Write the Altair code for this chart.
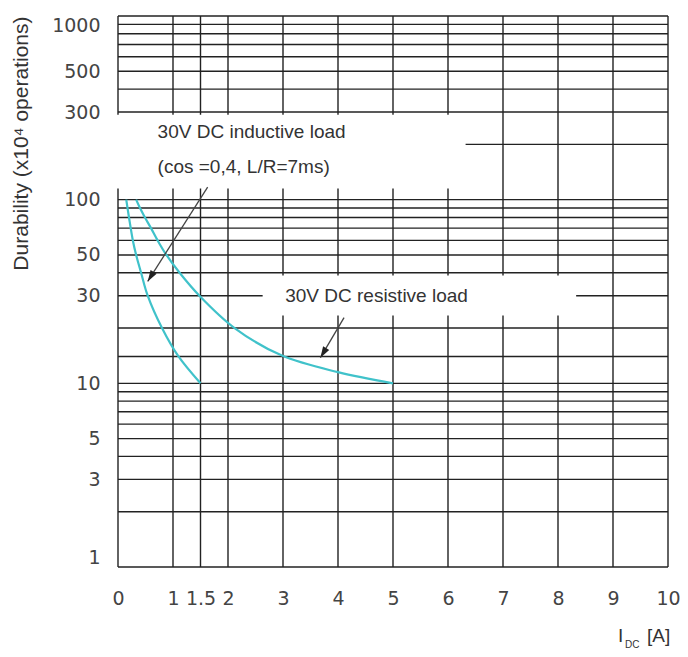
import altair as alt
import pandas as pd

# ---- data ----
x_grid = [0, 1, 1.5, 2, 3, 4, 5, 6, 7, 8, 9, 10]
y_grid = [1, 2, 3, 4, 5, 6, 7, 8, 9, 10, 14, 20, 30, 40, 50, 60, 70, 80, 90,
          100, 200, 300, 400, 500, 600, 700, 800, 900, 1000]
x_labels = [0, 1, 1.5, 2, 3, 4, 5, 6, 7, 8, 9, 10]
y_labels = [1, 3, 5, 10, 30, 50, 100, 300, 500, 1000]

ind_current = [0.15, 0.20, 0.27, 0.33, 0.42, 0.54, 0.80, 1.10, 1.5]
ind_durability = [100, 80, 60, 50, 40, 30, 20, 14, 10]
res_current = [0.33, 0.40, 0.49, 0.60, 0.72, 0.88, 1.12, 1.48, 2.12, 2.97, 4.0, 5.0]
res_durability = [100, 90, 80, 70, 60, 50, 40, 30, 20, 14.2, 11.5, 10]

# white label boxes that hide the grid behind the notes
box_x1 = [-0.05, 2.63]
box_x2 = [6.32, 8.33]
box_y1 = [115, 23.4]
box_y2 = [290, 38.7]

note_text = ["30V DC inductive load", "(cos =0,4, L/R=7ms)", "30V DC resistive load"]
note_x = [0.72, 0.72, 3.04]
note_y = [233, 150, 30]

arrow_x_from = [1.63, 4.11]
arrow_y_from = [117, 22.8]
arrow_x_to = [0.54, 3.68]
arrow_y_to = [35.9, 13.8]
arrow_angle = [32, 31]

# ---- tables ----
vgrid = pd.DataFrame({"x": x_grid, "y1": [1] * len(x_grid), "y2": [1000] * len(x_grid)})
hgrid = pd.DataFrame({"y": y_grid, "x1": [0] * len(y_grid), "x2": [10] * len(y_grid)})
curves = pd.concat([
    pd.DataFrame({"series": "inductive", "idx": range(len(ind_current)),
                  "current": ind_current, "durability": ind_durability}),
    pd.DataFrame({"series": "resistive", "idx": range(len(res_current)),
                  "current": res_current, "durability": res_durability}),
])
boxes = pd.DataFrame({"x1": box_x1, "x2": box_x2, "y1": box_y1, "y2": box_y2})
notes = pd.DataFrame({"text": note_text, "x": note_x, "y": note_y})
arrows = pd.DataFrame({"x1": arrow_x_from, "y1": arrow_y_from,
                       "x2": arrow_x_to, "y2": arrow_y_to, "angle": arrow_angle})

xs = alt.Scale(domain=[0, 10], nice=False, zero=False)
ys = alt.Scale(type="log", domain=[1, 1000], nice=False)

GRID = "#222222"
CURVE = "#40c2ca"
TEXT = "#333333"

x_axis = alt.Axis(values=x_labels, labelExpr="'' + datum.value", title=None,
                  labelPadding=22, labelOverlap=False, labelFlush=False)
y_axis = alt.Axis(values=y_labels, labelExpr="'' + datum.value",
                  title="Durability (x10⁴ operations)", titleAnchor="end",
                  titlePadding=20, labelPadding=18, labelOverlap=False,
                  labelFlush=True,
                  titleFont="Liberation Sans", titleFontSize=21,
                  titleFontWeight="normal", titleColor=TEXT)


def X(field):
    return alt.X(field, scale=xs, axis=x_axis)


def Y(field):
    return alt.Y(field, scale=ys, axis=y_axis)


v_layer = alt.Chart(vgrid).mark_rule(color=GRID, strokeWidth=1.4).encode(
    x=X("x:Q"), y=Y("y1:Q"), y2="y2:Q",
)
h_layer = alt.Chart(hgrid).mark_rule(color=GRID, strokeWidth=1.4).encode(
    y=Y("y:Q"), x=X("x1:Q"), x2="x2:Q",
)
box_layer = alt.Chart(boxes).mark_rect(color="white").encode(
    x=X("x1:Q"), x2="x2:Q", y=Y("y1:Q"), y2="y2:Q",
)
curve_layer = alt.Chart(curves).mark_line(color=CURVE, strokeWidth=2.2,
                                          interpolate="catmull-rom").encode(
    x=X("current:Q"), y=Y("durability:Q"),
    detail="series:N", order="idx:Q",
)
arrow_layer = alt.Chart(arrows).mark_rule(color="#444444", strokeWidth=1.3).encode(
    x=X("x1:Q"), x2="x2:Q", y=Y("y1:Q"), y2="y2:Q",
)
head_layer = alt.Chart(arrows).mark_point(
    shape="M0,0L-0.32,-1L0.32,-1Z", filled=True, color="#222222", opacity=1,
    size=500, strokeWidth=0,
).encode(
    x=X("x2:Q"), y=Y("y2:Q"),
    angle=alt.Angle("angle:Q", scale=None),
)
note_layer = alt.Chart(notes).mark_text(
    align="left", baseline="middle", font="Liberation Sans", fontSize=19, color=TEXT,
).encode(
    x=X("x:Q"), y=Y("y:Q"), text="text:N",
)

one = pd.DataFrame({"k": [0]})
title_i = alt.Chart(one).mark_text(text="I", align="left", baseline="alphabetic",
                                   font="Liberation Sans", fontSize=19, color=TEXT).encode(
    x=alt.value(500), y=alt.value(626))
title_dc = alt.Chart(one).mark_text(text="DC", align="left", baseline="alphabetic",
                                    font="Liberation Sans", fontSize=10, color=TEXT).encode(
    x=alt.value(507), y=alt.value(632))
title_a = alt.Chart(one).mark_text(text="[A]", align="left", baseline="alphabetic",
                                   font="Liberation Sans", fontSize=19, color=TEXT).encode(
    x=alt.value(529), y=alt.value(626))

chart = alt.layer(
    v_layer, h_layer, box_layer, curve_layer, arrow_layer, head_layer, note_layer,
    title_i, title_dc, title_a,
).properties(
    width=550, height=551,
    autosize=alt.AutoSizeParams(type="none"),
    padding={"left": 110, "top": 8, "right": 12, "bottom": 82},
    background="white",
).configure_view(stroke=None).configure_axis(
    grid=False, domain=False, ticks=False, tickSize=0,
    labelFont="DejaVu Sans", labelFontSize=19, labelColor="#444444",
)

chart.save("out.html", embed_options={"renderer": "svg", "actions": False})
